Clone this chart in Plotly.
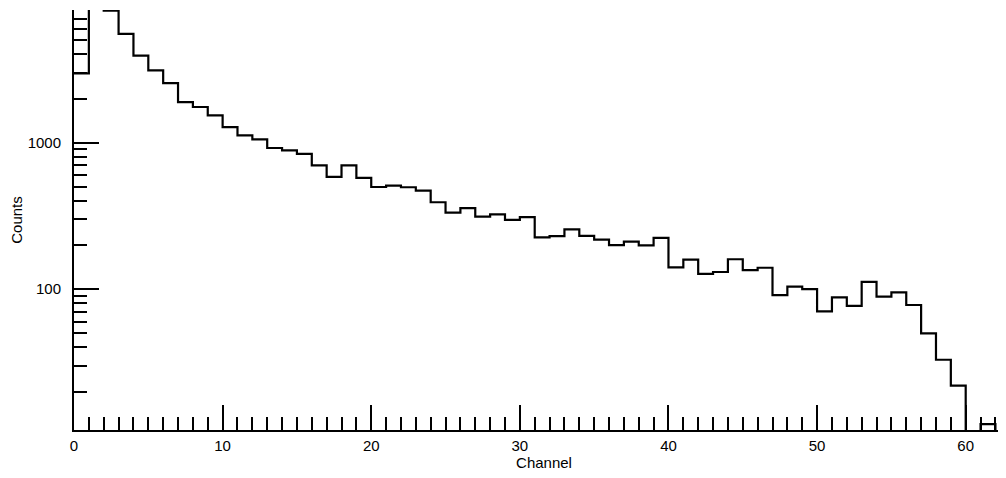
import plotly.graph_objects as go

# Histogram counts per channel bin (bin k spans k..k+1)
channels = list(range(63))
counts = [2970, 12000, 7950, 5530, 3920, 3110, 2550, 1890, 1750, 1535,
          1277, 1121, 1053, 919, 886, 839, 700, 583, 700, 574,
          498, 509, 496, 471, 392, 333, 357, 313, 324, 297,
          310, 226, 230, 256, 231, 218, 200, 211, 199, 224,
          141, 159, 127, 131, 160, 135, 140, 91, 104, 100,
          70.5, 88, 77, 112, 89, 95, 78, 50, 33, 22,
          0, 12, 0]

x_major = [0, 10, 20, 30, 40, 50, 60]
x_major_labels = ["0", "10", "20", "30", "40", "50", "60"]
y_major = [100, 1000]
y_major_labels = ["100", "1000"]
y_minor = [m * 10 ** e for e in (1, 2, 3) for m in range(2, 10)]

# step outline: left edges plus final right edge; zero bins drawn below the visible range
xs = channels + [channels[-1] + 1]
ys = [c if c > 0 else 1e-3 for c in counts]
ys = ys + [ys[-1]]

fig = go.Figure()
fig.add_trace(go.Scatter(x=xs, y=ys, mode="lines", line_shape="hv",
                         line=dict(color="black", width=2.2), showlegend=False))

font = dict(family="Liberation Sans, Arial, sans-serif", size=15, color="black")

fig.update_layout(
    width=1006, height=478,
    margin=dict(l=66, r=0, t=2, b=56, autoexpand=False),
    paper_bgcolor="white", plot_bgcolor="white",
    font=font,
    xaxis=dict(
        range=[0, 63.25], showgrid=False, zeroline=False,
        showline=True, linecolor="black", linewidth=2,
        ticks="inside", ticklen=25, tickwidth=2, tickcolor="black",
        tickvals=x_major, ticktext=x_major_labels, ticklabelstandoff=1,
        minor=dict(ticks="inside", ticklen=13, tickwidth=2, tickcolor="black",
                   dtick=1, showgrid=False),
        title=dict(text="Channel", standoff=3, font=font),
        automargin=False,
    ),
    yaxis=dict(
        type="log", range=[1.039, 3.905], showgrid=False, zeroline=False,
        showline=True, linecolor="black", linewidth=2,
        ticks="inside", ticklen=25, tickwidth=2, tickcolor="black",
        tickvals=y_major, ticktext=y_major_labels, ticklabelstandoff=8,
        minor=dict(ticks="inside", ticklen=13, tickwidth=2, tickcolor="black",
                   tickvals=y_minor, showgrid=False),
        title=dict(text="Counts", standoff=8, font=font),
        automargin=False,
    ),
)

fig.write_html("out.html")
